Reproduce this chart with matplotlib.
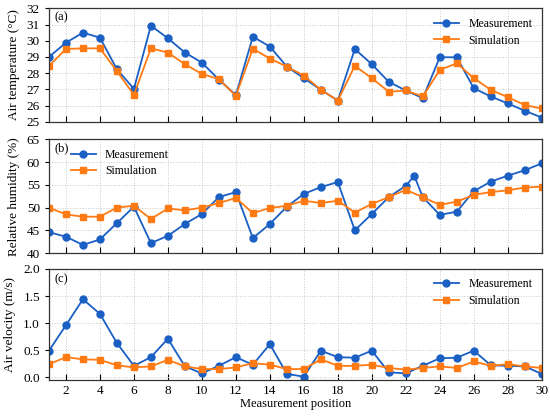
import matplotlib
matplotlib.use("Agg")
import matplotlib.pyplot as plt
from matplotlib.ticker import MultipleLocator, FormatStrFormatter

# Data
positions = list(range(1, 31))

temp_meas = [29.0, 29.88, 30.5, 30.19, 28.24, 27.03, 30.93, 30.15, 29.27, 28.65,
             27.6, 26.65, 30.25, 29.64, 28.4, 27.69, 26.97, 26.31, 29.49, 28.55,
             27.46, 26.93, 26.46, 28.98, 28.98, 27.07, 26.56, 26.13, 25.68, 25.26]
temp_sim = [28.45, 29.49, 29.53, 29.53, 28.12, 26.66, 29.53, 29.27, 28.55, 27.95,
            27.63, 26.6, 29.51, 28.9, 28.4, 27.85, 26.97, 26.31, 28.45, 27.69,
            26.85, 26.93, 26.56, 28.2, 28.61, 27.69, 26.97, 26.52, 26.03, 25.82]

# humidity measurement has an extra reading between positions 22 and 23
rh_meas_pos = list(range(1, 23)) + [22.5] + list(range(23, 31))
rh_meas = [44.6, 43.6, 41.8, 43.0, 46.6, 50.2, 42.2, 43.8, 46.4, 48.6,
           52.3, 53.4, 43.3, 46.4, 50.2, 53.0, 54.5, 55.6, 45.0, 48.6,
           52.3, 54.8, 56.95, 52.3, 48.4, 49.1, 53.6, 55.7, 57.0, 58.2, 59.7]
rh_sim = [50.0, 48.5, 48.0, 48.0, 50.0, 50.4, 47.5, 49.8, 49.4, 50.0,
          51.0, 52.1, 48.8, 49.9, 50.4, 51.5, 51.0, 51.5, 48.9, 50.8,
          52.3, 53.9, 52.3, 50.6, 51.3, 52.8, 53.4, 53.8, 54.4, 54.6]

vel_meas = [0.49, 0.96, 1.44, 1.17, 0.63, 0.21, 0.37, 0.71, 0.20, 0.07,
            0.21, 0.37, 0.23, 0.61, 0.06, 0.01, 0.49, 0.37, 0.36, 0.49,
            0.09, 0.07, 0.21, 0.35, 0.36, 0.49, 0.22, 0.21, 0.20, 0.06]
vel_sim = [0.24, 0.37, 0.33, 0.32, 0.22, 0.18, 0.20, 0.32, 0.20, 0.15,
           0.15, 0.18, 0.26, 0.23, 0.15, 0.15, 0.33, 0.21, 0.21, 0.23,
           0.17, 0.14, 0.17, 0.20, 0.17, 0.29, 0.21, 0.24, 0.20, 0.17]

blue = "#1a5fc4"
orange = "#ff7a12"

plt.rcParams["font.family"] = ["Liberation Serif", "DejaVu Serif"]

fig = plt.figure(figsize=(5.5, 4.17), dpi=100)
ax_a = fig.add_axes([0.089, 0.708, 0.896, 0.272])
ax_b = fig.add_axes([0.089, 0.393, 0.896, 0.273])
ax_c = fig.add_axes([0.089, 0.089, 0.896, 0.266])

line_kw = dict(lw=1.3, ms=5)
leg_kw = dict(frameon=False, fontsize=8.5, handlelength=2.1, borderaxespad=0.4,
              labelspacing=0.4)


def style_axis(ax):
    ax.set_xlim(1, 30)
    ax.xaxis.set_major_locator(MultipleLocator(2))
    ax.grid(True, ls=":", lw=0.7, color="#c8c8c8")
    ax.tick_params(axis="x", direction="in", length=4, labelsize=9.5)
    ax.tick_params(axis="y", direction="out", length=3, labelsize=9.5)
    for sp in ax.spines.values():
        sp.set_color("#333333")
        sp.set_linewidth(0.9)


# (a) Air temperature
ax_a.plot(positions, temp_meas, "-o", color=blue, label="Measurement", **line_kw)
ax_a.plot(positions, temp_sim, "-s", color=orange, label="Simulation", **line_kw)
ax_a.set_ylim(25, 32)
ax_a.yaxis.set_major_locator(MultipleLocator(1))
ax_a.set_ylabel("Air temperature (°C)", fontsize=9.5, labelpad=5)
style_axis(ax_a)
ax_a.tick_params(axis="x", labelbottom=False)
ax_a.text(0.012, 0.92, "(a)", transform=ax_a.transAxes, fontsize=9, va="center")
ax_a.legend(loc="upper right", **leg_kw)

# (b) Relative humidity
ax_b.plot(rh_meas_pos, rh_meas, "-o", color=blue, label="Measurement", **line_kw)
ax_b.plot(positions, rh_sim, "-s", color=orange, label="Simulation", **line_kw)
ax_b.set_ylim(40, 65)
ax_b.yaxis.set_major_locator(MultipleLocator(5))
ax_b.set_ylabel("Relative humidity (%)", fontsize=9.5, labelpad=5)
style_axis(ax_b)
ax_b.tick_params(axis="x", labelbottom=False)
ax_b.text(0.012, 0.92, "(b)", transform=ax_b.transAxes, fontsize=9, va="center")
ax_b.legend(loc="upper left", bbox_to_anchor=(0.025, 1.0), **leg_kw)

# (c) Air velocity
ax_c.plot(positions, vel_meas, "-o", color=blue, label="Measurement", **line_kw)
ax_c.plot(positions, vel_sim, "-s", color=orange, label="Simulation", **line_kw)
ax_c.set_ylim(-0.05, 2.0)
ax_c.yaxis.set_major_locator(MultipleLocator(0.5))
ax_c.yaxis.set_major_formatter(FormatStrFormatter("%.1f"))
ax_c.set_ylabel("Air velocity (m/s)", fontsize=9.5, labelpad=5)
style_axis(ax_c)
ax_c.set_xlabel("Measurement position", fontsize=9, labelpad=1)
ax_c.text(0.012, 0.91, "(c)", transform=ax_c.transAxes, fontsize=9, va="center")
ax_c.legend(loc="upper right", **leg_kw)

fig.savefig("out.png", dpi=100)
